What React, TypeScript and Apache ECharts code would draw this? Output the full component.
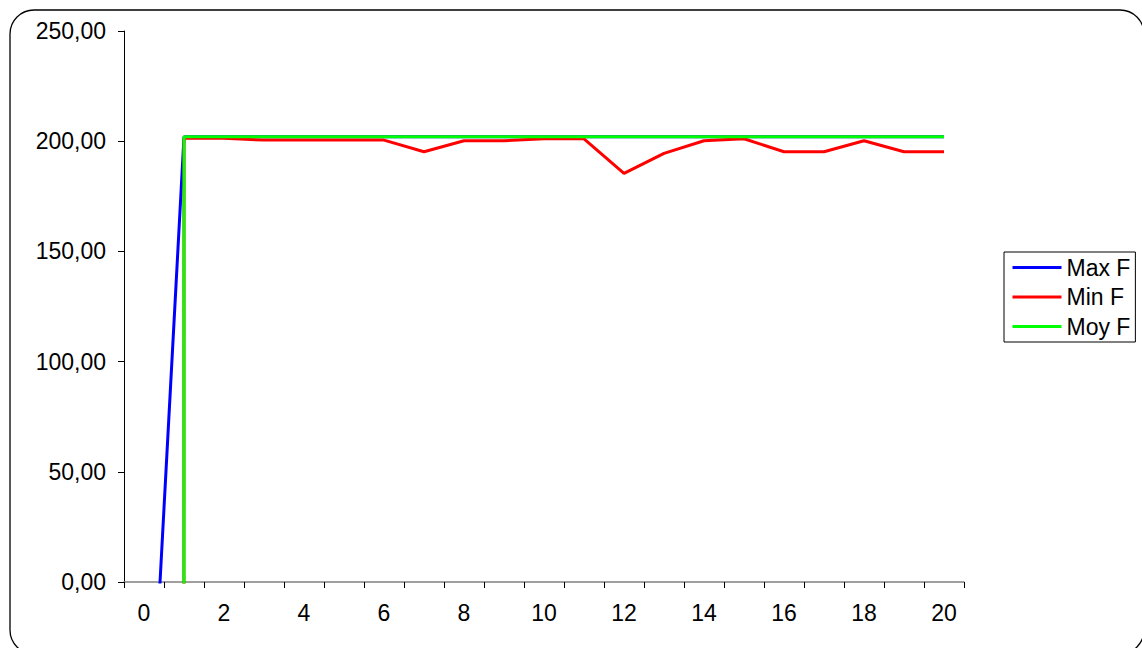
import React, { useEffect, useRef } from "react";
import * as echarts from "echarts";

// Generation index on the x axis
const categories: string[] = [
  "0", "1", "2", "3", "4", "5", "6", "7", "8", "9", "10",
  "11", "12", "13", "14", "15", "16", "17", "18", "19", "20",
];

// Fitness statistics per generation
const maxF: number[] = [
  -135, 202, 202, 202, 202, 202, 202, 202, 202, 202, 202,
  202, 202, 202, 202, 202, 202, 202, 202, 202, 202,
];
const minF: number[] = [
  -100000, 201.3, 201.3, 200.5, 200.5, 200.5, 200.5, 195.2, 200.2, 200.2, 201.1,
  201.1, 185.4, 194.5, 200.2, 201.1, 195.2, 195.2, 200.2, 195.2, 195.2,
];
const moyF: number[] = [
  -100000, 202, 202, 202, 202, 202, 202, 202, 202, 202, 202,
  202, 202, 202, 202, 202, 202, 202, 202, 202, 202,
];

const seriesNames = ["Max F", "Min F", "Moy F"];
const seriesColors = ["#0000ff", "#ff0000", "#00ff00"];

const FONT = "'Liberation Sans', Arial, sans-serif";
const FONT_SIZE = 23;

export default function App() {
  const ref = useRef<HTMLDivElement>(null);

  useEffect(() => {
    if (!ref.current) return;
    const chart = echarts.init(ref.current, undefined, { renderer: "svg" });
    const values = [maxF, minF, moyF];

    chart.setOption({
      animation: false,
      backgroundColor: "#ffffff",
      textStyle: { fontFamily: FONT },
      graphic: [
        {
          type: "rect",
          shape: { x: 10, y: 10, width: 1134, height: 644, r: 24 },
          style: { fill: "none", stroke: "#000000", lineWidth: 1.3 },
          silent: true,
        },
      ],
      grid: { left: 124, top: 31, right: 178, bottom: 66, containLabel: false },
      legend: {
        orient: "vertical",
        left: 1004,
        top: 252,
        data: seriesNames,
        borderColor: "#000000",
        borderWidth: 1,
        padding: [4, 5, 4, 7],
        itemWidth: 49,
        itemHeight: 22,
        itemGap: 6.5,
        // plain line samples, no marker dot
        itemStyle: { opacity: 0 },
        lineStyle: { width: 3 },
        textStyle: { fontFamily: FONT, fontSize: FONT_SIZE, color: "#000000" },
      },
      xAxis: {
        type: "category",
        data: categories,
        boundaryGap: true,
        axisLine: { lineStyle: { color: "#808080", width: 1.5 } },
        axisTick: {
          show: true,
          interval: 0,
          length: 6,
          alignWithLabel: false,
          lineStyle: { color: "#000000", width: 1 },
        },
        axisLabel: {
          interval: 1,
          margin: 19,
          fontFamily: FONT,
          fontSize: FONT_SIZE,
          color: "#000000",
        },
        splitLine: { show: false },
      },
      yAxis: {
        type: "value",
        min: 0,
        max: 250,
        interval: 50,
        axisLine: { show: true, lineStyle: { color: "#000000", width: 1 } },
        axisTick: { show: true, length: 6, lineStyle: { color: "#000000" } },
        axisLabel: {
          margin: 18,
          fontFamily: FONT,
          fontSize: FONT_SIZE,
          color: "#000000",
          formatter: (v: number) => v.toFixed(2).replace(".", ","),
        },
        splitLine: { show: false },
      },
      series: seriesNames.map((name, i) => ({
        name,
        type: "line",
        data: values[i],
        symbol: "none",
        clip: true,
        color: seriesColors[i],
        lineStyle: { color: seriesColors[i], width: 3 },
      })),
    });

    return () => chart.dispose();
  }, []);

  return (
    <div
      ref={ref}
      style={{ position: "absolute", left: 0, top: 0, width: 1142, height: 648 }}
    />
  );
}
